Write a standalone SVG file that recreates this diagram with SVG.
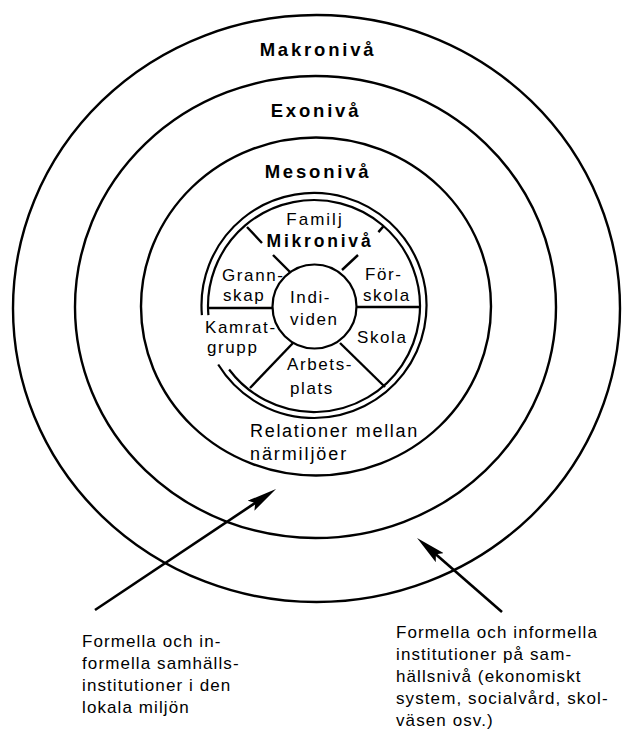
<svg xmlns="http://www.w3.org/2000/svg" width="634" height="734" viewBox="0 0 634 734">
<style>
.ring{fill:none;stroke:#000;stroke-width:2.4}
.thin{fill:none;stroke:#000;stroke-width:2.2}
.spoke{stroke:#000;stroke-width:2.4;fill:none}
.lvl{font-family:"Liberation Sans",Arial,sans-serif;font-weight:bold;font-size:18.5px;letter-spacing:2.8px;text-anchor:middle;fill:#000}
.mic{font-family:"Liberation Sans",Arial,sans-serif;font-size:17px;letter-spacing:1.6px;fill:#000}
.note{font-family:"Liberation Sans",Arial,sans-serif;font-size:17px;letter-spacing:1.1px;fill:#000}
.arrow{stroke:#000;stroke-width:2.6;fill:none;marker-end:url(#ah)}
</style>
<defs>
<marker id="ah" viewBox="0 0 30 12" refX="20" refY="6" markerWidth="30" markerHeight="12" markerUnits="userSpaceOnUse" orient="auto">
<path d="M0,0 L30,6 L0,12 L5,6 Z" fill="#000"/>
</marker>
</defs>
<rect width="634" height="734" fill="#fff"/>
<g id="makroniva">
<ellipse class="ring" cx="316.5" cy="308.5" rx="303.5" ry="293.5"/>
<text class="lvl" x="318" y="56">Makronivå</text>
</g>
<g id="exoniva">
<ellipse class="ring" cx="315.5" cy="307" rx="240.5" ry="231"/>
<text class="lvl" x="316" y="117">Exonivå</text>
</g>
<g id="mesoniva">
<ellipse class="ring" cx="316" cy="306.5" rx="175" ry="169"/>
<text class="lvl" x="318" y="178">Mesonivå</text>
<text class="mic" x="250" y="437" style="font-size:18px;letter-spacing:1.7px">Relationer mellan</text>
<text class="mic" x="250" y="460" style="font-size:18px;letter-spacing:1.9px">närmiljöer</text>
</g>
<g id="mikroniva">
<path class="thin" d="M201.9,315.1 A112.5,112.5 0 1 1 218.2,364.5"/>
<path class="thin" d="M208.4,315.2 A106,106 0 1 1 229.1,369.5"/>
<text class="mic" x="315" y="225" text-anchor="middle" style="letter-spacing:2px">Familj</text>
<text class="lvl" x="320" y="247" style="font-size:17.5px;letter-spacing:2.8px">Mikronivå</text>
</g>
<g id="individen">
<circle class="thin" cx="314.5" cy="306.5" r="42"/>
<text class="mic" x="290" y="303">Indi-</text>
<text class="mic" x="290" y="325">viden</text>
</g>
<g id="grannskap"><text class="mic" x="222" y="281">Grann-</text><text class="mic" x="223" y="300.5">skap</text></g>
<g id="forskola"><text class="mic" x="365" y="280">För-</text><text class="mic" x="363" y="301">skola</text></g>
<g id="kamratgrupp"><text class="mic" x="205" y="333">Kamrat-</text><text class="mic" x="207" y="353">grupp</text></g>
<g id="skola"><text class="mic" x="357" y="343">Skola</text></g>
<g id="arbetsplats"><text class="mic" x="287" y="370">Arbets-</text><text class="mic" x="290" y="394">plats</text></g>
<g id="spokes">
<line class="spoke" x1="247" y1="227" x2="262" y2="243"/>
<line class="spoke" x1="273" y1="255" x2="290" y2="272"/>
<line class="spoke" x1="358" y1="255" x2="342" y2="270"/>
<line class="spoke" x1="378.4" y1="232.1" x2="383.6" y2="226.1"/>
<line class="spoke" x1="208" y1="308" x2="273" y2="308"/>
<line class="spoke" x1="356" y1="307" x2="420" y2="307"/>
<line class="spoke" x1="340" y1="343" x2="385" y2="387"/>
<line class="spoke" x1="293" y1="343" x2="250" y2="388"/>
</g>
<g id="connectors">
<line class="arrow" x1="95" y1="610" x2="267.7" y2="494.6"/>
<line class="arrow" x1="502" y1="612" x2="424.6" y2="544.5"/>
</g>
<g id="note-lokal">
<text class="note" x="82" y="647">Formella och in-</text>
<text class="note" x="82" y="669">formella samhälls-</text>
<text class="note" x="82" y="691">institutioner i den</text>
<text class="note" x="82" y="713">lokala miljön</text>
</g>
<g id="note-samhalle">
<text class="note" x="396" y="638">Formella och informella</text>
<text class="note" x="396" y="660">institutioner på sam-</text>
<text class="note" x="396" y="682">hällsnivå (ekonomiskt</text>
<text class="note" x="396" y="704">system, socialvård, skol-</text>
<text class="note" x="396" y="726">väsen osv.)</text>
</g>
</svg>
